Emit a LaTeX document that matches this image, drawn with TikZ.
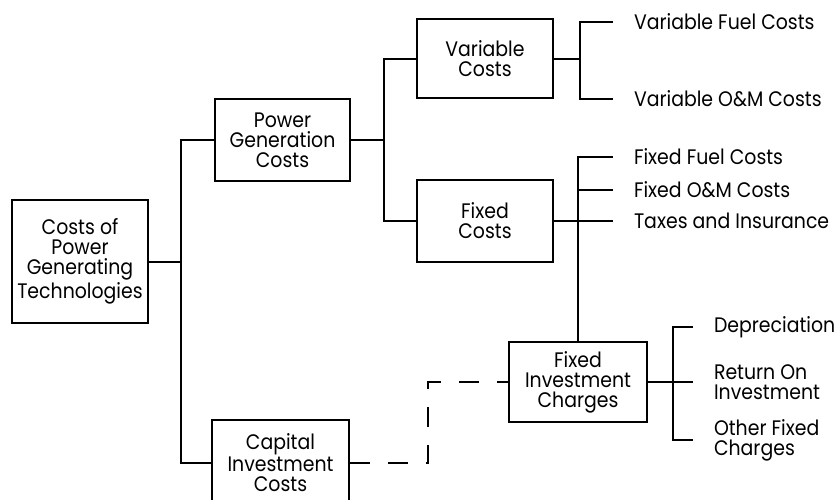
\documentclass[tikz,border=0pt]{standalone}
\usepackage{fontspec}
\setmainfont[FakeStretch=0.9]{Poppins}
\usetikzlibrary{positioning}
\begin{document}
\begin{tikzpicture}[x=0.5pt, y=-0.5pt, line width=1pt,
    box/.style={draw, line width=1.2pt, rectangle, align=center, inner sep=0pt, minimum width=68pt, font=\fontsize{10.5}{10}\selectfont},
    leaf/.style={anchor=west, inner sep=0pt, align=left, font=\fontsize{10.5}{10}\selectfont}]
        \useasboundingbox (0,0) rectangle (834,499);
        \clip (0,0) rectangle (834,499);
        \node[box, minimum height=61.5pt] (root) at (80,261.5) {Costs of\\Power\\Generating\\Technologies};
        \node[box, minimum width=67.5pt, minimum height=41pt] (pgc) at (282.5,140) {Power\\Generation\\Costs};
        \node[box, minimum height=39.5pt] (vc) at (485,58.5) {Variable\\Costs};
        \node[box, minimum height=41pt] (fc) at (485,221) {Fixed\\Costs};
        \node[box, minimum width=69pt, minimum height=40pt] (fic) at (578,382) {Fixed\\Investment\\Charges};
        \node[box, minimum width=68.5pt, minimum height=43pt] (cic) at (280.5,463) {Capital\\Investment\\Costs};
        \node[leaf] (vfl) at (633,22) {Variable Fuel Costs};
        \node[leaf] (vom) at (633,99) {Variable O\&M Costs};
        \node[leaf] (ffc) at (633,157) {Fixed Fuel Costs};
        \node[leaf] (fom) at (633,190) {Fixed O\&M Costs};
        \node[leaf] (tai) at (633,221) {Taxes and Insurance};
        \node[leaf] (dep) at (713,327) {Depreciation};
        \node[leaf] (roi) at (713,382) {Return On\\Investment};
        \node[leaf] (ofc) at (713,440) {Other Fixed\\Charges};
        \coordinate (b1) at (181,300);
        \coordinate (b2) at (384,140);
        \coordinate (b3) at (580,58.5);
        \coordinate (b4) at (673,382);
        \coordinate (c1) at (428,420);
        \draw (root.east) -- (root.east -| b1);
        \draw (pgc.west) -| (b1) |- (cic.west);
        \draw (pgc.east) -- (b2);
        \draw (vc.west) -| (b2) |- (fc.west);
        \draw (vc.east) -- (b3);
        \draw ([xshift=-10pt]vfl.west) -| (b3) |- ([xshift=-10pt]vom.west);
        \draw (fc.east) -- ([xshift=-10pt]tai.west);
        \draw ([xshift=-10pt]ffc.west) -| (fic.north);
        \draw ([xshift=-10pt]fom.west) -- (fom.west -| fic.north);
        \draw (fic.east) -- ([xshift=-10pt]roi.west);
        \draw ([xshift=-10pt]dep.west) -| (b4) |- ([xshift=-10pt]ofc.west);
        \draw[dash pattern=on 10pt off 9pt] (cic.east) -| (c1) |- (fic.west);
    \end{tikzpicture}
\end{document}
